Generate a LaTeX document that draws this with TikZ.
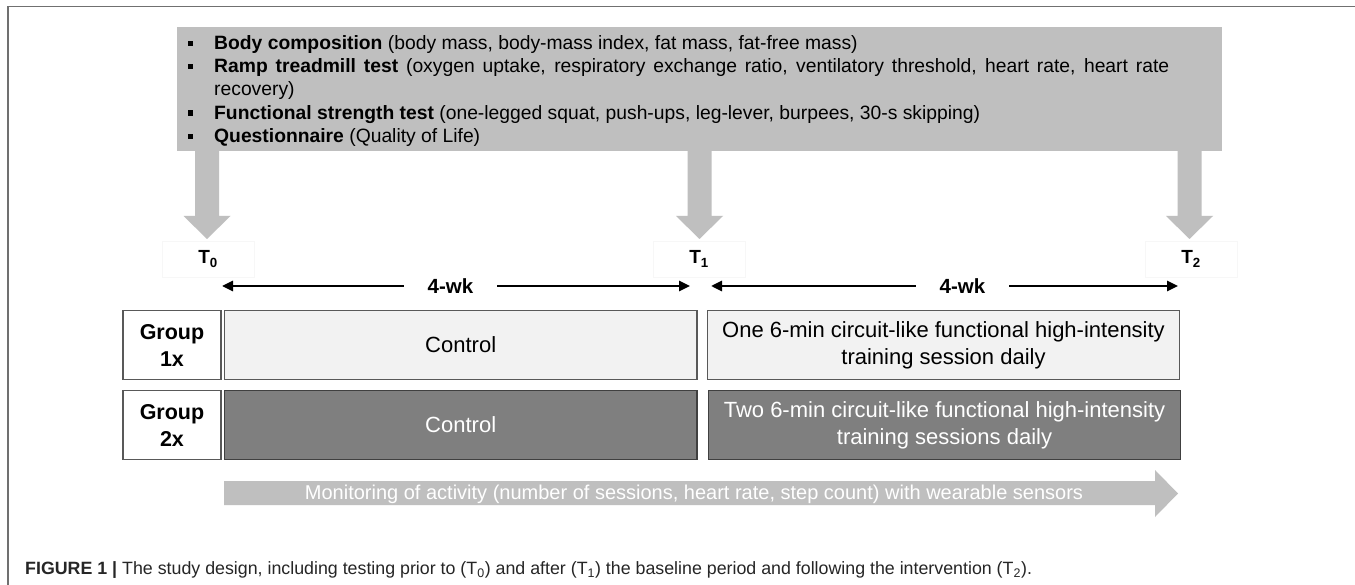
\documentclass[tikz,border=0pt]{standalone}
\usepackage{fontspec}
\setmainfont{Liberation Sans}
\usetikzlibrary{arrows.meta}
\definecolor{banner}{HTML}{BFBFBF}
\definecolor{framec}{HTML}{707070}
\definecolor{lightbox}{HTML}{F2F2F2}
\definecolor{darkbox}{HTML}{7F7F7F}
\definecolor{lightborder}{HTML}{595959}
\definecolor{darkborder}{HTML}{404040}
\newcommand\blt{\makebox[0pt][r]{\raisebox{3.6pt}{\rule{5.5pt}{5.5pt}}\hspace{21.2pt}}}
\begin{document}
\begin{tikzpicture}[x=1pt,y=-1pt,
  btxt/.style={anchor=base west, inner sep=0pt, font=\fontsize{19.3}{22}\selectfont},
  tlab/.style={draw=black!3, minimum width=92pt, minimum height=36pt, inner sep=0pt, font=\fontsize{19}{20}\selectfont\bfseries},
  wk/.style={line width=2.6pt, {Triangle[length=11pt,width=10pt]}-{Triangle[length=11pt,width=10pt]}},
  wklab/.style={fill=white, minimum width=93pt, minimum height=20pt, inner sep=0pt, font=\fontsize{20.5}{22}\selectfont\bfseries},
  grp/.style={draw=lightborder, line width=1.2pt, fill=white, minimum width=98pt, minimum height=68.5pt, inner sep=0pt, align=center, font=\fontsize{21.5}{27}\selectfont\bfseries},
  lbox/.style={draw=lightborder, line width=1.2pt, fill=lightbox, minimum height=68.5pt, inner sep=0pt, align=center, font=\fontsize{22}{27}\selectfont},
  dbox/.style={draw=darkborder, line width=1.2pt, fill=darkbox, text=white, minimum height=68.5pt, inner sep=0pt, align=center, font=\fontsize{22}{27}\selectfont}
]
\useasboundingbox (0,0) rectangle (1355,585);
\fill[white] (0,0) rectangle (1355,585);
\draw[framec, line width=1.5pt] (8,585) -- (8,6.5) -- (1355,6.5);

% banner
\node[fill=banner, minimum width=1045pt, minimum height=124pt, inner sep=0pt, anchor=north west] (banner) at (177,27) {};
\foreach \x in {207,699.5,1189.5}
  \fill[banner] (\x-12,150) -- (\x-12,216) -- (\x-23.5,216) -- (\x,239) -- (\x+23.5,216) -- (\x+12,216) -- (\x+12,150) -- cycle;

\node[btxt] (b1) at (214,50) {\blt\textbf{Body composition} (body mass, body-mass index, fat mass, fat-free mass)};
\node[btxt] (b2) at (214,73) {\blt\makebox[955pt][s]{\textbf{Ramp treadmill test} (oxygen uptake, respiratory exchange ratio, ventilatory threshold, heart rate, heart rate}};
\node[btxt] (b2b) at (214,96) {recovery)};
\node[btxt] (b3) at (214,119.5) {\blt\textbf{Functional strength test} (one-legged squat, push-ups, leg-lever, burpees, 30-s skipping)};
\node[btxt] (b4) at (214,143) {\blt\textbf{Questionnaire} (Quality of Life)};

% time points
\node[tlab] (T0) at (208,259) {T\textsubscript{0}};
\node[tlab] (T1) at (699,259) {T\textsubscript{1}};
\node[tlab] (T2) at (1191,259) {T\textsubscript{2}};

\coordinate (l0) at (222,286);
\coordinate (l1) at (690,286);
\coordinate (r0) at (711,286);
\coordinate (r1) at (1178,286);
\draw[wk] (l0) -- (l1);
\draw[wk] (r0) -- (r1);
\node[wklab] (wk1) at (450.5,286) {4-wk};
\node[wklab] (wk2) at (962.5,286) {4-wk};

% groups
\node[grp] (g1) at (172,345) {Group\\1x};
\node[grp] (g2) at (172,425) {Group\\2x};
\node[lbox, minimum width=472.5pt] (c1) at (460.7,345) {Control};
\node[lbox, minimum width=472.5pt] (i1) at (943.5,345) {One 6-min circuit-like functional high-intensity\\training session daily};
\node[dbox, minimum width=472.5pt] (c2) at (460.7,425) {Control};
\node[dbox, minimum width=472.5pt] (i2) at (944.5,425) {Two 6-min circuit-like functional high-intensity\\training sessions daily};

% monitoring arrow
\fill[banner] (224,481) -- (1155,481) -- (1155,470) -- (1178,493.5) -- (1155,517) -- (1155,505) -- (224,505) -- cycle;
\node[text=white, inner sep=0pt, font=\fontsize{20}{20}\selectfont] (mon) at (694,494) {Monitoring of activity (number of sessions, heart rate, step count) with wearable sensors};

% caption
\node[anchor=west, inner sep=0pt, text=black!85, font=\fontsize{17.8}{20}\selectfont] (cap) at (25,570) {\textbf{FIGURE 1 |} The study design, including testing prior to (T\textsubscript{0}) and after (T\textsubscript{1}) the baseline period and following the intervention (T\textsubscript{2}).};
\end{tikzpicture}
\end{document}
